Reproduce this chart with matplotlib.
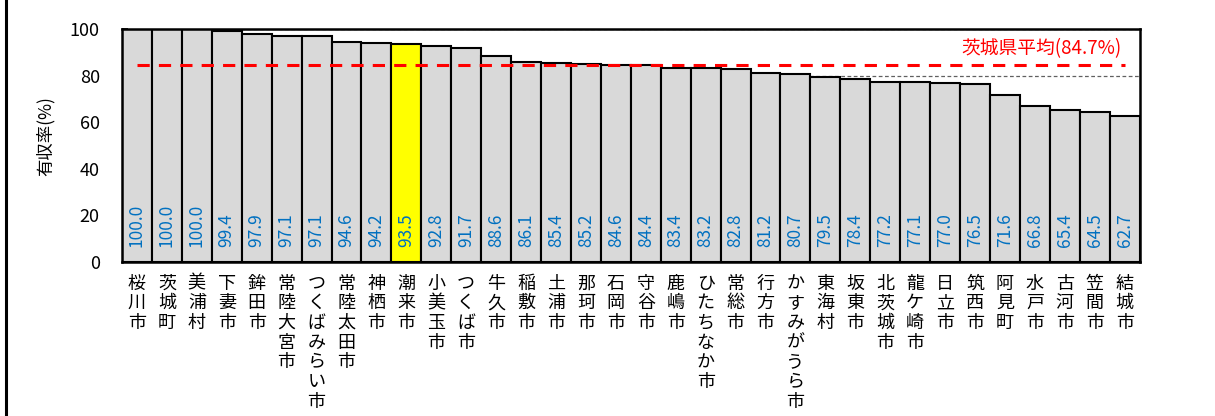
import matplotlib.pyplot as plt
from matplotlib.lines import Line2D
from matplotlib.ticker import MultipleLocator

plt.rcParams['font.family'] = ['Noto Sans CJK JP', 'DejaVu Sans']

# 市町村別 有収率
cities = [
    "桜川市", "茨城町", "美浦村", "下妻市", "鉾田市", "常陸大宮市", "つくばみらい市",
    "常陸太田市", "神栖市", "潮来市", "小美玉市", "つくば市", "牛久市", "稲敷市",
    "土浦市", "那珂市", "石岡市", "守谷市", "鹿嶋市", "ひたちなか市", "常総市",
    "行方市", "かすみがうら市", "東海村", "坂東市", "北茨城市", "龍ケ崎市", "日立市",
    "筑西市", "阿見町", "水戸市", "古河市", "笠間市", "結城市",
]
rates = [
    100.0, 100.0, 100.0, 99.4, 97.9, 97.1, 97.1, 94.6, 94.2, 93.5, 92.8, 91.7,
    88.6, 86.1, 85.4, 85.2, 84.6, 84.4, 83.4, 83.2, 82.8, 81.2, 80.7, 79.5,
    78.4, 77.2, 77.1, 77.0, 76.5, 71.6, 66.8, 65.4, 64.5, 62.7,
]
highlight = "潮来市"
pref_avg = 84.7

fig = plt.figure(figsize=(12.15, 4.16), dpi=100)
ax = fig.add_axes([0.1004, 0.370, 0.8376, 0.560])

x = list(range(len(cities)))
colors = ["#FFFF00" if c == highlight else "#D9D9D9" for c in cities]
ax.bar(x, rates, width=1.0, color=colors, edgecolor="black", linewidth=1.5, zorder=2)

# 値ラベル(縦書き、棒の下部)
for xi, v in zip(x, rates):
    ax.text(xi, 6.5, f"{v:.1f}", rotation=90, ha="center", va="bottom",
            color="#0070C0", fontsize=12.5, zorder=4)

# 県平均線
ax.plot([x[0], x[-1]], [pref_avg, pref_avg], color="red", linestyle=(0, (4, 3)),
        linewidth=2.2, zorder=3)
ax.text(x[-1] - 0.1, 87.0, f"茨城県平均({pref_avg}%)", color="red", fontsize=13.5,
        ha="right", va="bottom", zorder=4)

ax.set_xlim(-0.5, len(cities) - 0.5)
ax.set_ylim(0, 100)
ax.yaxis.set_major_locator(MultipleLocator(20))
ax.yaxis.set_minor_locator(MultipleLocator(10))
ax.tick_params(axis="y", which="both", direction="in", length=4, width=1.2,
               labelsize=13, pad=16)
ax.tick_params(axis="x", length=0, pad=9)
ax.set_xticks(x)
ax.set_xticklabels(["\n".join(c) for c in cities], fontsize=13,
                   linespacing=1.12, va="top")

# 縦軸タイトル
ax.text(-0.0756, 0.54, "有収率(%)", rotation=90, fontsize=12.5, ha="center",
        va="center", transform=ax.transAxes)

ax.yaxis.grid(True, which="major", linestyle=(0, (3, 2)), color="#606060",
              linewidth=0.9, zorder=0)
ax.set_axisbelow(True)
for s in ax.spines.values():
    s.set_linewidth(1.8)

fig.add_artist(Line2D([6 / 1215, 6 / 1215], [0, 1], color="black", linewidth=2.2,
                      transform=fig.transFigure))

fig.savefig("out.png", dpi=100)
